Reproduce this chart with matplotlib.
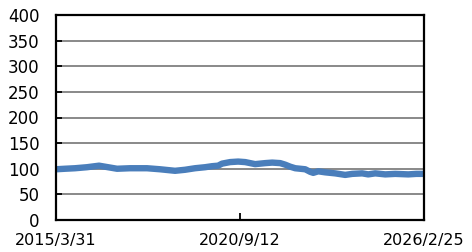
import matplotlib
matplotlib.use("Agg")
import matplotlib.pyplot as plt
import pandas as pd

plt.rcParams['font.family'] = ['DejaVu Sans']

dates = ["2015-03-31", "2015-07-06", "2015-10-23", "2016-03-01", "2016-07-09",
         "2016-10-14", "2017-01-20", "2017-06-09", "2017-12-10", "2018-04-30",
         "2018-10-10", "2019-01-26", "2019-05-14", "2019-08-31", "2019-11-15",
         "2020-01-19", "2020-03-02", "2020-05-28", "2020-08-23", "2020-11-07",
         "2021-02-23", "2021-06-12", "2021-08-27", "2021-11-21", "2022-01-14",
         "2022-03-10", "2022-05-03", "2022-06-26", "2022-08-19", "2022-10-12",
         "2022-11-14", "2023-01-07", "2023-03-24", "2023-07-10", "2023-10-26",
         "2024-01-10", "2024-04-27", "2024-07-01", "2024-09-15", "2025-01-02",
         "2025-04-20", "2025-09-08", "2025-12-03", "2026-02-25"]
values = [99, 100, 101, 103, 106, 103, 100, 101, 101, 99,
          96, 98, 101, 103, 105, 106, 110, 113, 114, 113,
          109, 111, 112, 111, 108, 104, 101, 100, 99, 94,
          92, 95, 93, 91, 88, 90, 91, 89, 91, 89,
          90, 89, 90, 90]
x_tick_labels = ["2015/3/31", "2020/9/12", "2026/2/25"]
y_ticks = [0, 50, 100, 150, 200, 250, 300, 350, 400]

x = pd.to_datetime(dates)
xt = pd.to_datetime(["2015-03-31", "2020-09-12", "2026-02-25"])

fig = plt.figure(figsize=(4.72, 2.52), dpi=100)
ax = fig.add_axes([56/472, 32/252, 368/472, 205/252])
ax.plot(x, values, color='#4a7ebb', lw=4.6, solid_capstyle='butt')
ax.set_xlim(xt[0], xt[-1])
ax.set_ylim(0, 400)
ax.set_yticks(y_ticks)
ax.set_yticklabels([str(v) for v in y_ticks])
ax.set_xticks(xt)
ax.set_xticklabels(x_tick_labels)
ax.yaxis.grid(True, color='#808080', lw=1.3)
ax.set_axisbelow(True)
for s in ax.spines.values():
    s.set_color('black')
    s.set_linewidth(1.6)
ax.tick_params(axis='y', direction='in', length=4, width=1.3, labelsize=12, pad=12)
ax.tick_params(axis='x', direction='in', length=5, width=1.3, labelsize=11.5, pad=9)
fig.savefig("out.png", dpi=100)
